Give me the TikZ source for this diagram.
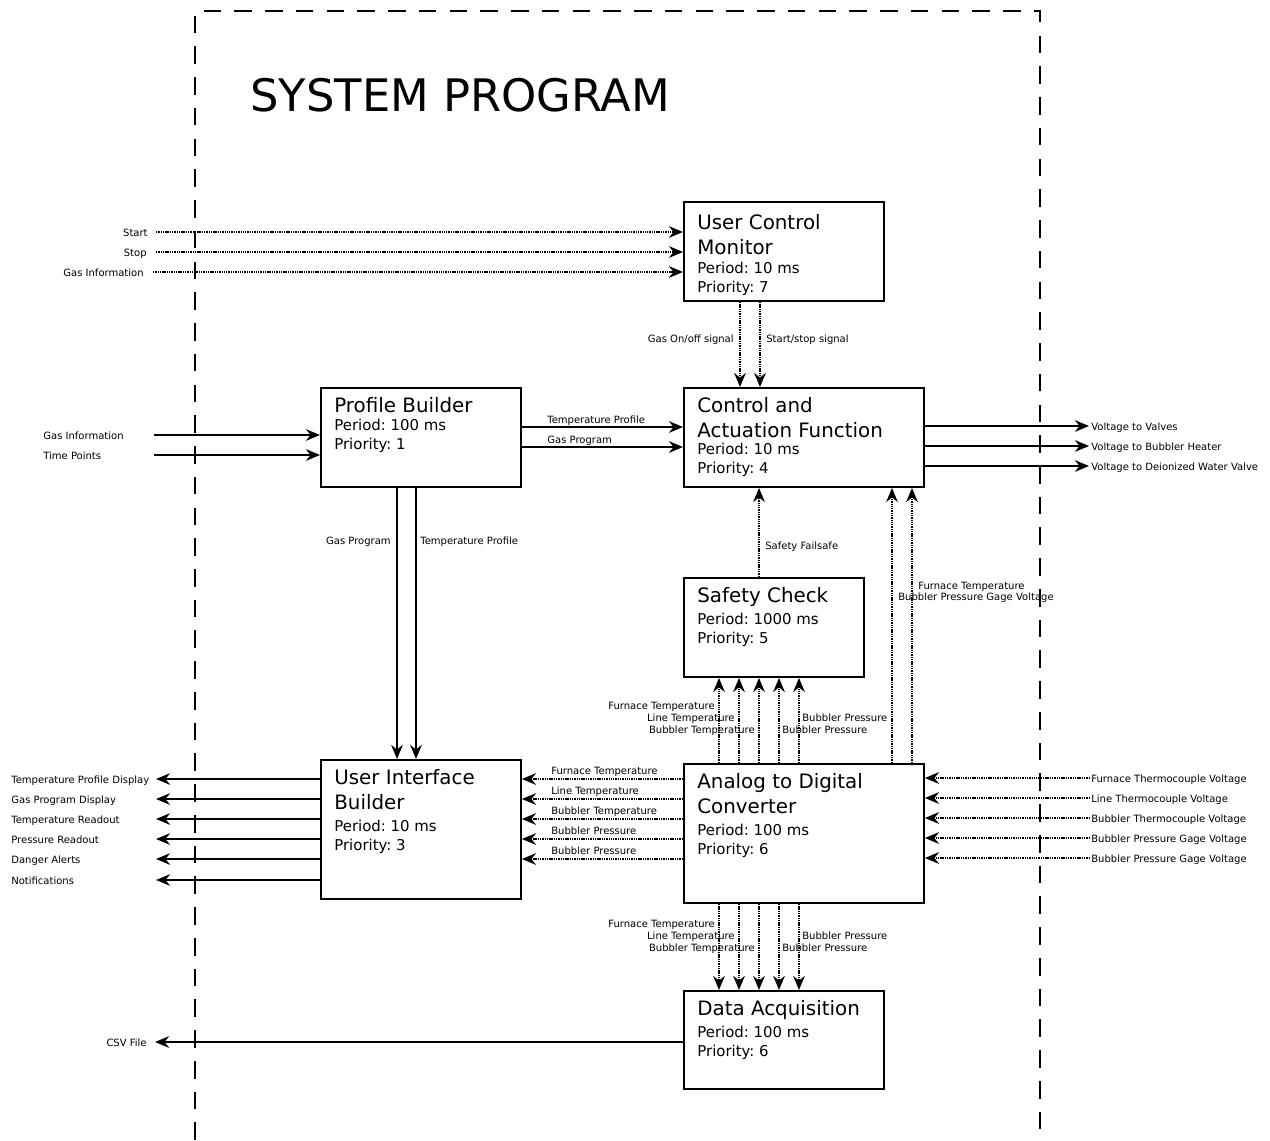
\documentclass[tikz,border=0pt]{standalone}
\usepackage{fontspec}
\setmainfont{DejaVu Sans}
\usetikzlibrary{arrows.meta}
\frenchspacing
\begin{document}
\begin{tikzpicture}[x=0.02cm,y=-0.02cm,
  blk/.style={draw, line width=1.1pt, rectangle, inner sep=0pt, anchor=north west},
  ttl/.style={anchor=north west, inner sep=0pt, align=left, font=\fontsize{11.3}{14.2}\selectfont},
  spec/.style={anchor=north west, inner sep=0pt, align=left, font=\fontsize{8.5}{10.7}\selectfont},
  lbl/.style={inner sep=0pt, font=\fontsize{5.7}{6.8}\selectfont},
  lr/.style={lbl, anchor=base east},
  ll/.style={lbl, anchor=base west},
  sol/.style={line width=1.1pt, -{Stealth[length=8pt,width=6.6pt,inset=2.6pt]}},
  dot/.style={sol, line width=1.2pt, dash pattern=on 0.8pt off 0.5pt},
  frame/.style={line width=1.1pt, dash pattern=on 10pt off 7.5pt}]
\useasboundingbox (0,0) rectangle (1270,1140);

% system frame
\draw[frame] (195,1140) -- (195,11) -- (1040,11) -- (1040,1140);
\node[anchor=north west, inner sep=0pt, font=\fontsize{25.5}{30}\selectfont] (sysT) at (250,78) {SYSTEM PROGRAM};

% boxes
\node[blk, minimum width=4cm, minimum height=1.98cm] (ucm) at (683,201) {};
\node[blk, minimum width=4.8cm, minimum height=1.98cm] (caf) at (683,387) {};
\node[blk, minimum width=4cm, minimum height=1.98cm] (pb) at (320,387) {};
\node[blk, minimum width=3.6cm, minimum height=1.98cm] (sc) at (683,577) {};
\node[blk, minimum width=4cm, minimum height=2.78cm] (uib) at (320,759) {};
\node[blk, minimum width=4.8cm, minimum height=2.78cm] (adc) at (683,763) {};
\node[blk, minimum width=4cm, minimum height=1.96cm] (da) at (683,990) {};

% box texts
\node[ttl] (ucmT) at (697,214) {User Control\\Monitor};
\node[spec] (ucmS) at (697,262) {Period: 10 ms\\Priority: 7};
\node[ttl] (cafT) at (697,397) {Control and\\Actuation Function};
\node[spec] (cafS) at (697,443) {Period: 10 ms\\Priority: 4};
\node[ttl] (pbT) at (334,397) {Profile Builder};
\node[spec] (pbS) at (334,419) {Period: 100 ms\\Priority: 1};
\node[ttl] (scT) at (697,587) {Safety Check};
\node[spec] (scS) at (697,613) {Period: 1000 ms\\Priority: 5};
\node[ttl] (uibT) at (334,769) {User Interface\\Builder};
\node[spec] (uibS) at (334,820) {Period: 10 ms\\Priority: 3};
\node[ttl] (adcT) at (697,773) {Analog to Digital\\Converter};
\node[spec] (adcS) at (697,824) {Period: 100 ms\\Priority: 6};
\node[ttl] (daT) at (697,1000) {Data Acquisition};
\node[spec] (daS) at (697,1026) {Period: 100 ms\\Priority: 6};

% inputs to user control monitor
\node[lr] (inStart) at (148,236) {Start};
\node[lr] (inStop) at (147,256) {Stop};
\node[lr] (inGas) at (144,276) {Gas Information};
\coordinate (cStart) at (156,232);
\coordinate (cStop) at (156,252);
\coordinate (cGas) at (153,272);
\draw[dot] (cStart) -- (cStart -| ucm.west);
\draw[dot] (cStop) -- (cStop -| ucm.west);
\draw[dot] (cGas) -- (cGas -| ucm.west);

% UCM -> CAF
\draw[dot] (ucm.south -| 740,0) -- (caf.north -| 740,0);
\draw[dot] (ucm.south -| 760,0) -- (caf.north -| 760,0);
\node[lr] (lGasOn) at (734,342) {Gas On/off signal};
\node[ll] (lStartStop) at (766,342) {Start/stop signal};

% inputs to profile builder
\node[ll] (inGas2) at (43,439) {Gas Information};
\node[ll] (inTime) at (43,459) {Time Points};
\coordinate (cGas2) at (154,435);
\coordinate (cTime) at (154,455);
\draw[sol] (cGas2) -- (cGas2 -| pb.west);
\draw[sol] (cTime) -- (cTime -| pb.west);

% PB -> CAF
\draw[sol] (pb.east |- 0,427) -- (caf.west |- 0,427);
\draw[sol] (pb.east |- 0,447) -- (caf.west |- 0,447);
\node[ll] (lTP) at (547,423) {Temperature Profile};
\node[ll] (lGP) at (547,443) {Gas Program};

% CAF outputs
\node[ll] (oV1) at (1091,430) {Voltage to Valves};
\node[ll] (oV2) at (1091,450) {Voltage to Bubbler Heater};
\node[ll] (oV3) at (1091,470) {Voltage to Deionized Water Valve};
\coordinate (cV1) at (1089,426);
\coordinate (cV2) at (1089,446);
\coordinate (cV3) at (1089,466);
\draw[sol] (caf.east |- cV1) -- (cV1);
\draw[sol] (caf.east |- cV2) -- (cV2);
\draw[sol] (caf.east |- cV3) -- (cV3);

% PB -> UIB
\draw[sol] (pb.south -| 397,0) -- (uib.north -| 397,0);
\draw[sol] (pb.south -| 416,0) -- (uib.north -| 416,0);
\node[lr] (lGP2) at (391,544) {Gas Program};
\node[ll] (lTP2) at (420,544) {Temperature Profile};

% SC -> CAF
\draw[dot] (sc.north -| 759,0) -- (caf.south -| 759,0);
\node[ll] (lSF) at (765,549) {Safety Failsafe};

% ADC -> CAF
\draw[dot] (adc.north -| 892,0) -- (caf.south -| 892,0);
\draw[dot] (adc.north -| 912,0) -- (caf.south -| 912,0);
\node[ll] (lFT0) at (918,589) {Furnace Temperature};
\node[ll] (lBPG0) at (898,600) {Bubbler Pressure Gage Voltage};

% ADC -> SC
\foreach \x in {719,739,759,779,799}{
  \draw[dot] (adc.north -| \x,0) -- (sc.south -| \x,0);
}
\node[lr] (sFT) at (715,709) {Furnace Temperature};
\node[lr] (sLT) at (735,721) {Line Temperature};
\node[lr] (sBT) at (755,733) {Bubbler Temperature};
\node[ll] (sBP1) at (782,733) {Bubbler Pressure};
\node[ll] (sBP2) at (802,721) {Bubbler Pressure};

% ADC -> DA
\foreach \x in {719,739,759,779,799}{
  \draw[dot] (adc.south -| \x,0) -- (da.north -| \x,0);
}
\node[lr] (dFT) at (715,927) {Furnace Temperature};
\node[lr] (dLT) at (735,939) {Line Temperature};
\node[lr] (dBT) at (755,951) {Bubbler Temperature};
\node[ll] (dBP1) at (782,951) {Bubbler Pressure};
\node[ll] (dBP2) at (802,939) {Bubbler Pressure};

% ADC -> UIB
\foreach \y in {779,799,819,839,859}{
  \draw[dot] (adc.west |- 0,\y) -- (uib.east |- 0,\y);
}
\node[ll] (uFT) at (551,774) {Furnace Temperature};
\node[ll] (uLT) at (551,794) {Line Temperature};
\node[ll] (uBT) at (551,814) {Bubbler Temperature};
\node[ll] (uBP1) at (551,834) {Bubbler Pressure};
\node[ll] (uBP2) at (551,854) {Bubbler Pressure};

% external -> ADC
\node[ll] (eFTV) at (1091,782) {Furnace Thermocouple Voltage};
\node[ll] (eLTV) at (1091,802) {Line Thermocouple Voltage};
\node[ll] (eBTV) at (1091,822) {Bubbler Thermocouple Voltage};
\node[ll] (eBPV1) at (1091,842) {Bubbler Pressure Gage Voltage};
\node[ll] (eBPV2) at (1091,862) {Bubbler Pressure Gage Voltage};
\foreach \y/\n in {778/1,798/2,818/3,838/4,858/5}{
  \coordinate (ce\n) at (1090,\y);
  \draw[dot] (ce\n) -- (ce\n -| adc.east);
}

% UIB outputs
\node[ll] (oTPD) at (11,783) {Temperature Profile Display};
\node[ll] (oGPD) at (11,803) {Gas Program Display};
\node[ll] (oTR) at (11,823) {Temperature Readout};
\node[ll] (oPR) at (11,843) {Pressure Readout};
\node[ll] (oDA) at (11,863) {Danger Alerts};
\node[ll] (oN) at (11,884) {Notifications};
\foreach \y/\n in {779/1,799/2,819/3,839/4,859/5,880/6}{
  \coordinate (cu\n) at (156,\y);
  \draw[sol] (cu\n -| uib.west) -- (cu\n);
}

% DA -> CSV
\node[lr] (oCSV) at (147,1046) {CSV File};
\coordinate (cCSV) at (155,1042);
\draw[sol] (cCSV -| da.west) -- (cCSV);
\end{tikzpicture}
\end{document}
